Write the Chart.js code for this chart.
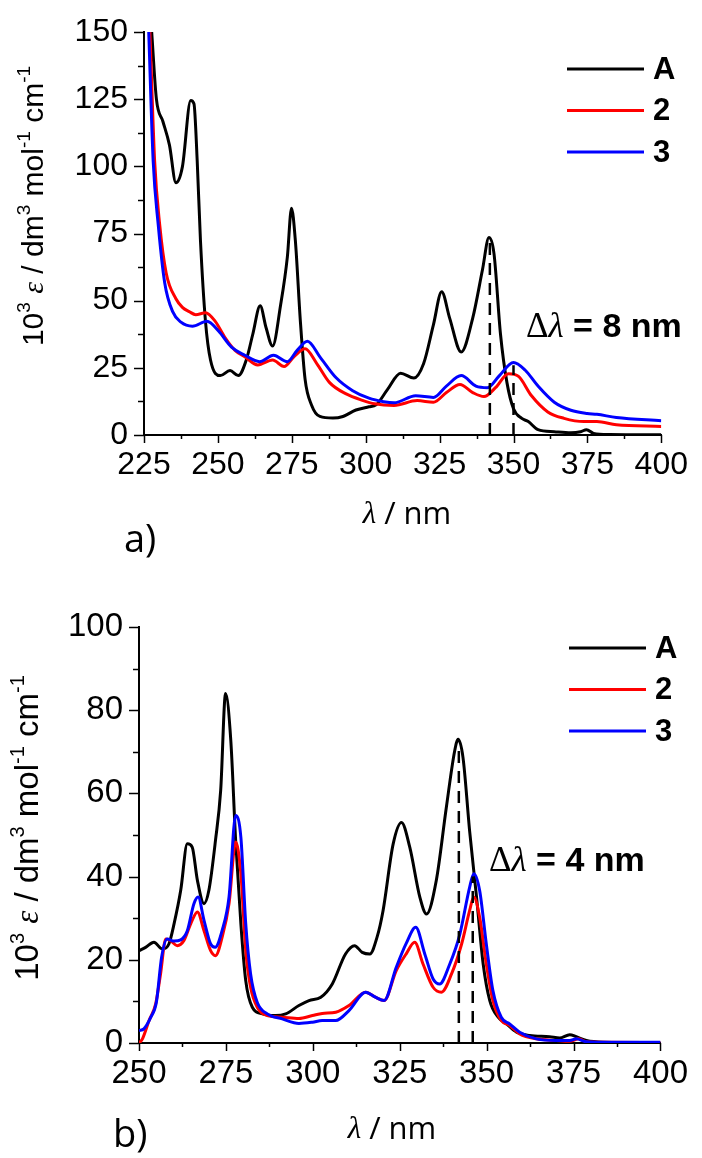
<!DOCTYPE html>
<html>
<head>
<meta charset="utf-8">
<script src="https://cdn.jsdelivr.net/npm/chart.js@4.4.1/dist/chart.umd.min.js"></script>
<style>
    html, body { margin: 0; padding: 0; background: #fff; }
    #wrap { position: relative; width: 702px; height: 1158px; }
    canvas { position: absolute; left: 0; }
    #chartA { top: 0; }
    #chartB { top: 580px; }
</style>
</head>
<body>
<div id="wrap">
    <canvas id="chartA" width="702" height="580"></canvas>
    <canvas id="chartB" width="702" height="578"></canvas>
</div>
<script>
// ---- panel a) data: wavelength (nm) and 10^3 epsilon ----
const aNmA  = [227.6,229.2,231.4,233.6,235.8,238,240.8,241.9,243,244.1,245.8,247.5,250.8,254.1,256.9,259.6,261.8,264.3,266.3,268.5,271.2,273.5,274.9,276.2,277.9,279.5,281.7,284.5,288.9,292.3,296.7,301.1,303.5,307.4,311.8,316.3,319.6,322.9,325.7,328.4,332.3,336.2,339.5,341.7,343.4,345.6,347.8,350,352.8,355,358.3,363.8,369.4,372.7,374.7,377.1,382.6,400];
const aEpsA = [150,125,116.7,108,93.9,99.9,124.5,123.3,102,72.4,42.3,27.9,22.1,24,22.1,27.9,37.5,48.1,39.9,33.1,48.3,66.3,84.4,72.4,42.3,20.7,11.1,6.9,6.3,6.9,9.3,10.5,11.2,17,23,21.2,26.6,41,53.3,43.5,30.9,43.5,61.5,73.5,67.5,37.5,19.4,9.8,6.2,5,2,1.2,0.8,1.2,2,0.6,0.2,0.1];

const aNm2  = [227,228.6,230.3,232.5,235.8,238,240.3,242.5,245.8,249.1,252.4,255.8,259.1,263.5,268.5,272.4,275.7,279.5,283.4,287.8,293.4,298.9,303,309.6,317.4,322.9,327.3,331.9,336.2,340,343.9,348.3,351.7,356.1,361.6,367.1,373.8,378.2,384.8,400];
const aEps2 = [150,102,78.4,60.3,50.7,47.5,45.9,44.8,45.5,42.3,36.3,31.5,29.1,26.1,27.9,25.5,29.1,32.1,26.7,19.5,15.3,12.9,11.6,11,12.8,12.2,15.8,18.8,15.8,14.3,17.6,22.8,21.8,14.6,8.6,6.2,5,5,3.8,3.2];

const aNm3  = [226.6,228.1,229.8,232,234.7,237.5,241.4,246.3,250.2,254.6,259.1,264.1,268.8,273.5,276.8,280.3,284.5,290,295.6,301.1,306.1,309.6,316.9,322.9,327.3,332.3,337.3,341.2,345,350,353.9,358.3,363.8,369.4,374.9,378.2,384.8,400];
const aEps3 = [150,102,78.4,56.7,45.9,42,40.5,42.3,38.7,32.7,29.7,27.3,29.7,27.3,31.5,34.9,29.1,21.3,16.5,13.7,12.4,12,14.6,14,18.2,22.1,18.2,17.6,21.8,27,24.2,18.2,12.2,9.2,8,7.7,6.5,5.3];

const aShiftNm  = [342, 350];
const aShiftTop = [72, 26];

// ---- panel b) data ----
const bNmA  = [250,251.9,254.3,256.7,258.6,260.1,262,263.9,265.3,266.8,268.7,270.1,272,273.5,274.9,276.4,277.8,279.3,280.7,282.6,285.5,289.3,292.2,296,298.9,302.3,305.6,309.4,312,314.2,316.4,318.5,320.2,323.1,325.5,327.9,330.8,332.7,335.5,338.4,340.8,341.8,343.2,345.1,347.1,349,350.9,353.3,355.7,358.6,362.4,368.1,371,373.9,375.8,378.7,383.5,400];
const bEpsA = [22.2,23,24.2,22.6,23.8,28.7,36.7,47.9,47.1,39.1,33.5,36.7,48.7,60.8,84,72.8,48.7,28.7,15,8.6,7,6.6,7,9,10.2,11,14.2,21.4,23.4,21.8,21.4,25.5,31.8,47.8,53,47,35,31,39,56.6,70.2,73,68.6,51,35,19,10.2,6.2,4.6,2.6,1.8,1.5,1.2,2,1.5,0.6,0.2,0.1];

const bNm2  = [250,251,252.9,254.8,256.2,257.7,259.1,261,262.9,264.9,266.8,268.7,270.6,272,273.9,275.9,277.8,279.3,280.7,282.1,284,286.9,291.2,296,299.9,302.7,306.6,310.4,315.2,318,320.5,324,326.9,329.3,331.7,334.6,337,339.9,342.8,345.1,346.3,348,349.9,351.8,354.2,356.6,359.5,364.3,370,373.9,376.5,378.7,383.5,400];
const bEps2 = [0,1,5.4,9.4,16.6,25,24.6,23.4,24.6,28.7,31.5,27,22.2,21,25.4,33.5,48.3,40.7,22.2,13.4,8.6,6.6,6.2,5.9,6.6,7.1,7.4,9,12.2,11,10.2,17.4,21.5,24.2,19,13.4,12.2,16.6,23.8,31.8,35.1,30.2,19,10.2,5.4,4.2,2.2,1,0.6,0.4,1,0.3,0.2,0.1];

const bNm3  = [250,251.4,253.4,255,256.5,258.1,260.1,262,263.9,265.8,267,268.7,270.6,271.9,273.9,275.9,277.8,279.3,280.7,282.1,284,286.9,291.2,296,299.9,302.7,306.6,310.4,315.2,318,320.5,324,326.9,329.6,332.2,334.6,336.5,339.4,342.3,345.1,346.3,348,349.9,351.8,354.2,356.6,359.5,364.3,370,373.9,375.8,378.7,383.5,400];
const bEps3 = [3,3.4,6.2,9.8,20.6,25,24.5,24.8,27,33.5,35.1,29.5,23.8,23,27,35.1,54.7,49.5,28.7,16.6,9.8,7,5.8,4.7,5,5.4,5.4,7.8,12.2,11,10.2,18.2,24,27.8,21.4,15.4,14.2,19,26.2,37.4,40.7,36.6,23.8,12.6,6.2,4.6,2.6,1,0.6,0.6,1,0.3,0.2,0.2];

const bShiftNm  = [342, 346];
const bShiftTop = [71, 40];

const seriesLabels = ['A', '2', '3'];
const seriesColors = ['#000000', '#ff0000', '#0000ff'];

const SANS  = "'Liberation Sans', Arial, sans-serif";
const SERIF = "'Liberation Serif', 'Times New Roman', serif";
const CAL   = "'Open Sans', 'Noto Sans', sans-serif";

function toPoints(nm, eps) {
    return nm.map((x, i) => ({ x: x, y: eps[i] }));
}

// draw a run of differently styled text pieces along a baseline
function drawRich(ctx, parts, x, y, align) {
    let total = 0;
    parts.forEach(p => { ctx.font = p.font; p.w = ctx.measureText(p.t).width; total += p.w; });
    let cx = align === 'center' ? x - total / 2 : x;
    parts.forEach(p => {
        ctx.font = p.font;
        ctx.fillText(p.t, cx, y + (p.dy || 0));
        cx += p.w;
    });
}

const decorPlugin = {
    id: 'decor',
    afterDraw(chart, args, o) {
        const ctx = chart.ctx;
        const xs = chart.scales.x, ys = chart.scales.y;
        const area = chart.chartArea;
        ctx.save();
        ctx.strokeStyle = '#000';
        ctx.fillStyle = '#000';
        ctx.lineWidth = 1.5;

        // major + minor tick marks, outward
        for (let v = xs.min; v <= xs.max + 1e-6; v += o.xStep / 2) {
            const px = Math.round(xs.getPixelForValue(v)) + 0.5;
            const major = Math.abs(Math.round((v - xs.min) / o.xStep) - (v - xs.min) / o.xStep) < 1e-6;
            ctx.beginPath();
            ctx.moveTo(px, area.bottom);
            ctx.lineTo(px, area.bottom + (major ? 8 : 4));
            ctx.stroke();
        }
        for (let v = ys.min; v <= ys.max + 1e-6; v += o.yStep / 2) {
            const py = Math.round(ys.getPixelForValue(v)) + 0.5;
            const major = Math.abs(Math.round(v / o.yStep) - v / o.yStep) < 1e-6;
            ctx.beginPath();
            ctx.moveTo(area.left, py);
            ctx.lineTo(area.left - (major ? 10 : 6), py);
            ctx.stroke();
        }

        // y axis title, rotated
        const ys1 = o.yTitleSize;
        const sup = Math.round(ys1 * 0.62);
        const reg = ys1 + 'px ' + SANS;
        const sm = sup + 'px ' + SANS;
        const up = -Math.round(ys1 * 0.42);
        ctx.save();
        ctx.translate(o.yTitleX, o.yTitleY);
        ctx.rotate(-Math.PI / 2);
        ctx.textBaseline = 'alphabetic';
        ctx.textAlign = 'left';
        drawRich(ctx, [
            { t: '10', font: reg }, { t: '3', font: sm, dy: up },
            { t: ' ', font: reg }, { t: '\u03B5', font: 'italic ' + ys1 + 'px ' + SERIF },
            { t: ' / dm', font: reg }, { t: '3', font: sm, dy: up },
            { t: ' mol', font: reg }, { t: '-1', font: sm, dy: up },
            { t: ' cm', font: reg }, { t: '-1', font: sm, dy: up }
        ], 0, 0, 'center');
        ctx.restore();

        // x axis title
        ctx.textBaseline = 'middle';
        ctx.textAlign = 'left';
        drawRich(ctx, [
            { t: '\u03BB', font: 'italic ' + o.xTitleSize + 'px ' + SERIF },
            { t: ' / nm', font: o.xTitleSize + 'px ' + CAL }
        ], o.xTitleX, o.xTitleY, 'center');

        // panel letter
        ctx.font = o.panelSize + 'px ' + CAL;
        ctx.fillText(o.panelLabel, o.panelX, o.panelY);

        // legend
        ctx.lineWidth = 3;
        seriesLabels.forEach((lab, i) => {
            const y = o.legendY + i * o.legendGap;
            ctx.strokeStyle = seriesColors[i];
            ctx.beginPath();
            ctx.moveTo(o.legendX, y);
            ctx.lineTo(o.legendX + 77, y);
            ctx.stroke();
            ctx.font = 'bold 31px ' + SANS;
            ctx.fillText(lab, o.legendX + 86, y + 1);
        });

        // shift annotation
        drawRich(ctx, [
            { t: '\u0394', font: '35px ' + SERIF },
            { t: '\u03BB', font: 'italic 35px ' + SERIF },
            { t: ' = ' + o.shift + ' nm', font: 'bold 34px ' + SANS }
        ], o.shiftX, o.shiftY, 'left');
        ctx.restore();
    }
};

function makeChart(id, cfg) {
    const datasets = [
        [cfg.nmA, cfg.epsA], [cfg.nm2, cfg.eps2], [cfg.nm3, cfg.eps3]
    ].map((s, i) => ({
        label: seriesLabels[i],
        data: toPoints(s[0], s[1]),
        borderColor: seriesColors[i],
        borderWidth: 3,
        pointRadius: 0,
        cubicInterpolationMode: 'monotone',
        fill: false,
        order: 3 - i
    }));
    cfg.shiftNm.forEach((nm, i) => {
        datasets.push({
            label: 'shift' + i,
            data: [{ x: nm, y: 0 }, { x: nm, y: cfg.shiftTop[i] }],
            borderColor: '#000',
            borderWidth: 2.5,
            borderDash: [12, 8],
            pointRadius: 0,
            tension: 0,
            fill: false,
            order: 0
        });
    });

    return new Chart(document.getElementById(id), {
        type: 'line',
        data: { datasets: datasets },
        plugins: [decorPlugin],
        options: {
            responsive: false,
            animation: false,
            devicePixelRatio: 1,
            layout: { padding: cfg.padding },
            plugins: {
                legend: { display: false },
                tooltip: { enabled: false },
                decor: cfg.decor
            },
            scales: {
                x: {
                    type: 'linear',
                    min: cfg.xMin, max: cfg.xMax,
                    grid: { display: false, drawTicks: false },
                    border: { display: true, color: '#000', width: 2 },
                    ticks: {
                        stepSize: cfg.xStep, color: '#000', padding: cfg.xPad,
                        maxRotation: 0, autoSkip: false,
                        font: { family: SANS, size: cfg.tickSize, lineHeight: 1 }
                    },
                    afterFit: s => { s.height = cfg.xAxisH; }
                },
                y: {
                    min: 0, max: cfg.yMax,
                    grid: { display: false, drawTicks: false },
                    border: { display: true, color: '#000', width: 2 },
                    ticks: {
                        stepSize: cfg.yStep, color: '#000', padding: 16,
                        font: { family: SANS, size: cfg.tickSize, lineHeight: 1 }
                    },
                    afterFit: s => { s.width = cfg.yAxisW; }
                }
            }
        }
    });
}

makeChart('chartA', {
    nmA: aNmA, epsA: aEpsA, nm2: aNm2, eps2: aEps2, nm3: aNm3, eps3: aEps3,
    shiftNm: aShiftNm, shiftTop: aShiftTop,
    xMin: 225, xMax: 400, xStep: 25, yMax: 150, yStep: 25,
    tickSize: 32, xPad: 14,
    padding: { left: 0, right: 29, top: 17, bottom: 0 },
    yAxisW: 144, xAxisH: 145,
    decor: {
        xStep: 25, yStep: 25,
        yTitleX: 43, yTitleY: 206, yTitleSize: 30,
        xTitleX: 407, xTitleY: 515, xTitleSize: 31,
        panelLabel: 'a)', panelX: 124, panelY: 541, panelSize: 38,
        legendX: 567, legendY: 69, legendGap: 41.5,
        shift: 8, shiftX: 526, shiftY: 328
    }
});

makeChart('chartB', {
    nmA: bNmA, epsA: bEpsA, nm2: bNm2, eps2: bEps2, nm3: bNm3, eps3: bEps3,
    shiftNm: bShiftNm, shiftTop: bShiftTop,
    xMin: 250, xMax: 400, xStep: 25, yMax: 100, yStep: 20,
    tickSize: 33, xPad: 14,
    padding: { left: 0, right: 41, top: 47, bottom: 0 },
    yAxisW: 139, xAxisH: 115,
    decor: {
        xStep: 25, yStep: 20,
        yTitleX: 38, yTitleY: 248, yTitleSize: 33,
        xTitleX: 392, xTitleY: 550, xTitleSize: 31,
        panelLabel: 'b)', panelX: 113, panelY: 556, panelSize: 38,
        legendX: 569, legendY: 68, legendGap: 41.5,
        shift: 4, shiftX: 489, shiftY: 282
    }
});
</script>
</body>
</html>
